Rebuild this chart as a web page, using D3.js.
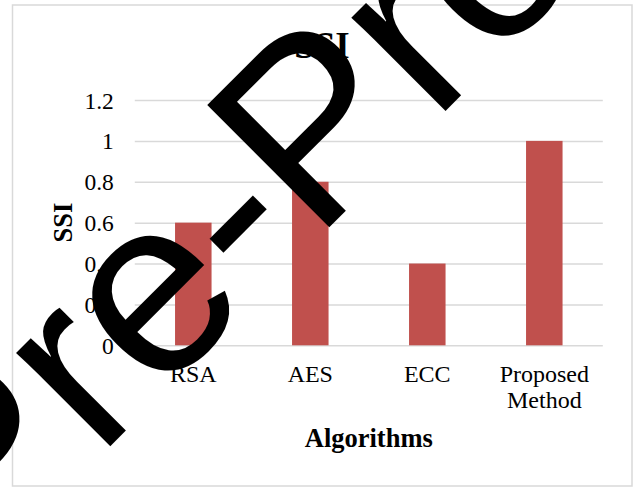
<!DOCTYPE html>
<html>
<head>
<meta charset="utf-8">
<script src="https://cdn.jsdelivr.net/npm/d3@7"></script>
<style>
  html, body { margin: 0; padding: 0; background: #ffffff; }
  svg { display: block; }
</style>
</head>
<body>
<svg id="chart" width="636" height="487"></svg>
<script>
// Structural similarity index per algorithm
const categories = ["RSA", "AES", "ECC", "Proposed Method"];
const ssiValues = [0.6, 0.8, 0.4, 1.0];
const yTickValues = [0, 0.2, 0.4, 0.6, 0.8, 1.0, 1.2];
const yTickLabels = ["0", "0.2", "0.4", "0.6", "0.8", "1", "1.2"];

const chartTitle = "SSI";
const yAxisTitle = "SSI";
const xAxisTitle = "Algorithms";
const stampText = "Pre-Proof";

const svg = d3.select("#chart");
const serif = "'Liberation Serif', 'Times New Roman', serif";

// chart area frame
svg.append("rect")
  .attr("x", 12.5).attr("y", 5)
  .attr("width", 619.5).attr("height", 481)
  .attr("fill", "#ffffff")
  .attr("stroke", "#d9d9d9")
  .attr("stroke-width", 1.5);

const plot = { left: 134.8, right: 602.8, top: 100, bottom: 345.3 };

const x = d3.scaleBand()
  .domain(categories)
  .range([plot.left, plot.right])
  .paddingInner(0.688)
  .paddingOuter(0.344);

const y = d3.scaleLinear()
  .domain([0, 1.2])
  .range([plot.bottom, plot.top]);

// y axis with horizontal gridlines
const yAxis = svg.append("g")
  .attr("transform", `translate(${plot.left},0)`)
  .call(d3.axisLeft(y)
    .tickValues(yTickValues)
    .tickFormat((d, i) => yTickLabels[i])
    .tickSize(-(plot.right - plot.left))
    .tickPadding(21));
yAxis.select(".domain").remove();
yAxis.selectAll(".tick line")
  .attr("stroke", "#d9d9d9")
  .attr("stroke-width", 1.5);
yAxis.selectAll(".tick text")
  .attr("font-family", serif)
  .attr("font-size", 23.5)
  .attr("fill", "#000000")
  .attr("dy", "0.34em");

// bars
svg.append("g")
  .selectAll("rect")
  .data(ssiValues)
  .join("rect")
  .attr("x", (d, i) => x(categories[i]))
  .attr("y", d => y(d))
  .attr("width", x.bandwidth())
  .attr("height", d => y(0) - y(d))
  .attr("fill", "#c0504d");

// category axis (labels only, wrapped onto lines)
const xAxis = svg.append("g")
  .attr("transform", `translate(0,${plot.bottom})`)
  .call(d3.axisBottom(x).tickSize(0).tickPadding(0));
xAxis.select(".domain").remove();
xAxis.selectAll(".tick text")
  .attr("font-family", serif)
  .attr("font-size", 24)
  .attr("fill", "#000000")
  .attr("y", 36.7)
  .attr("dy", 0)
  .each(function (d) {
    const words = d.split(" ");
    const t = d3.select(this).text(null);
    words.forEach((w, i) => {
      t.append("tspan")
        .attr("x", 0)
        .attr("dy", i === 0 ? 0 : 26.3)
        .text(w);
    });
  });

// titles
svg.append("text")
  .attr("x", 322).attr("y", 58)
  .attr("text-anchor", "middle")
  .attr("font-family", serif)
  .attr("font-weight", "bold")
  .attr("font-size", 37)
  .text(chartTitle);

svg.append("text")
  .attr("transform", `translate(71.5,${(plot.top + plot.bottom) / 2}) rotate(-90)`)
  .attr("text-anchor", "middle")
  .attr("font-family", serif)
  .attr("font-weight", "bold")
  .attr("font-size", 26.5)
  .text(yAxisTitle);

svg.append("text")
  .attr("x", (plot.left + plot.right) / 2).attr("y", 447)
  .attr("text-anchor", "middle")
  .attr("font-family", serif)
  .attr("font-weight", "bold")
  .attr("font-size", 26.5)
  .text(xAxisTitle);

// diagonal stamp across the page
svg.append("text")
  .attr("transform", "translate(-20.5,577) rotate(-45)")
  .attr("font-family", "'Liberation Sans', Arial, sans-serif")
  .attr("font-size", 251)
  .attr("fill", "#000000")
  .text(stampText);
</script>
</body>
</html>
